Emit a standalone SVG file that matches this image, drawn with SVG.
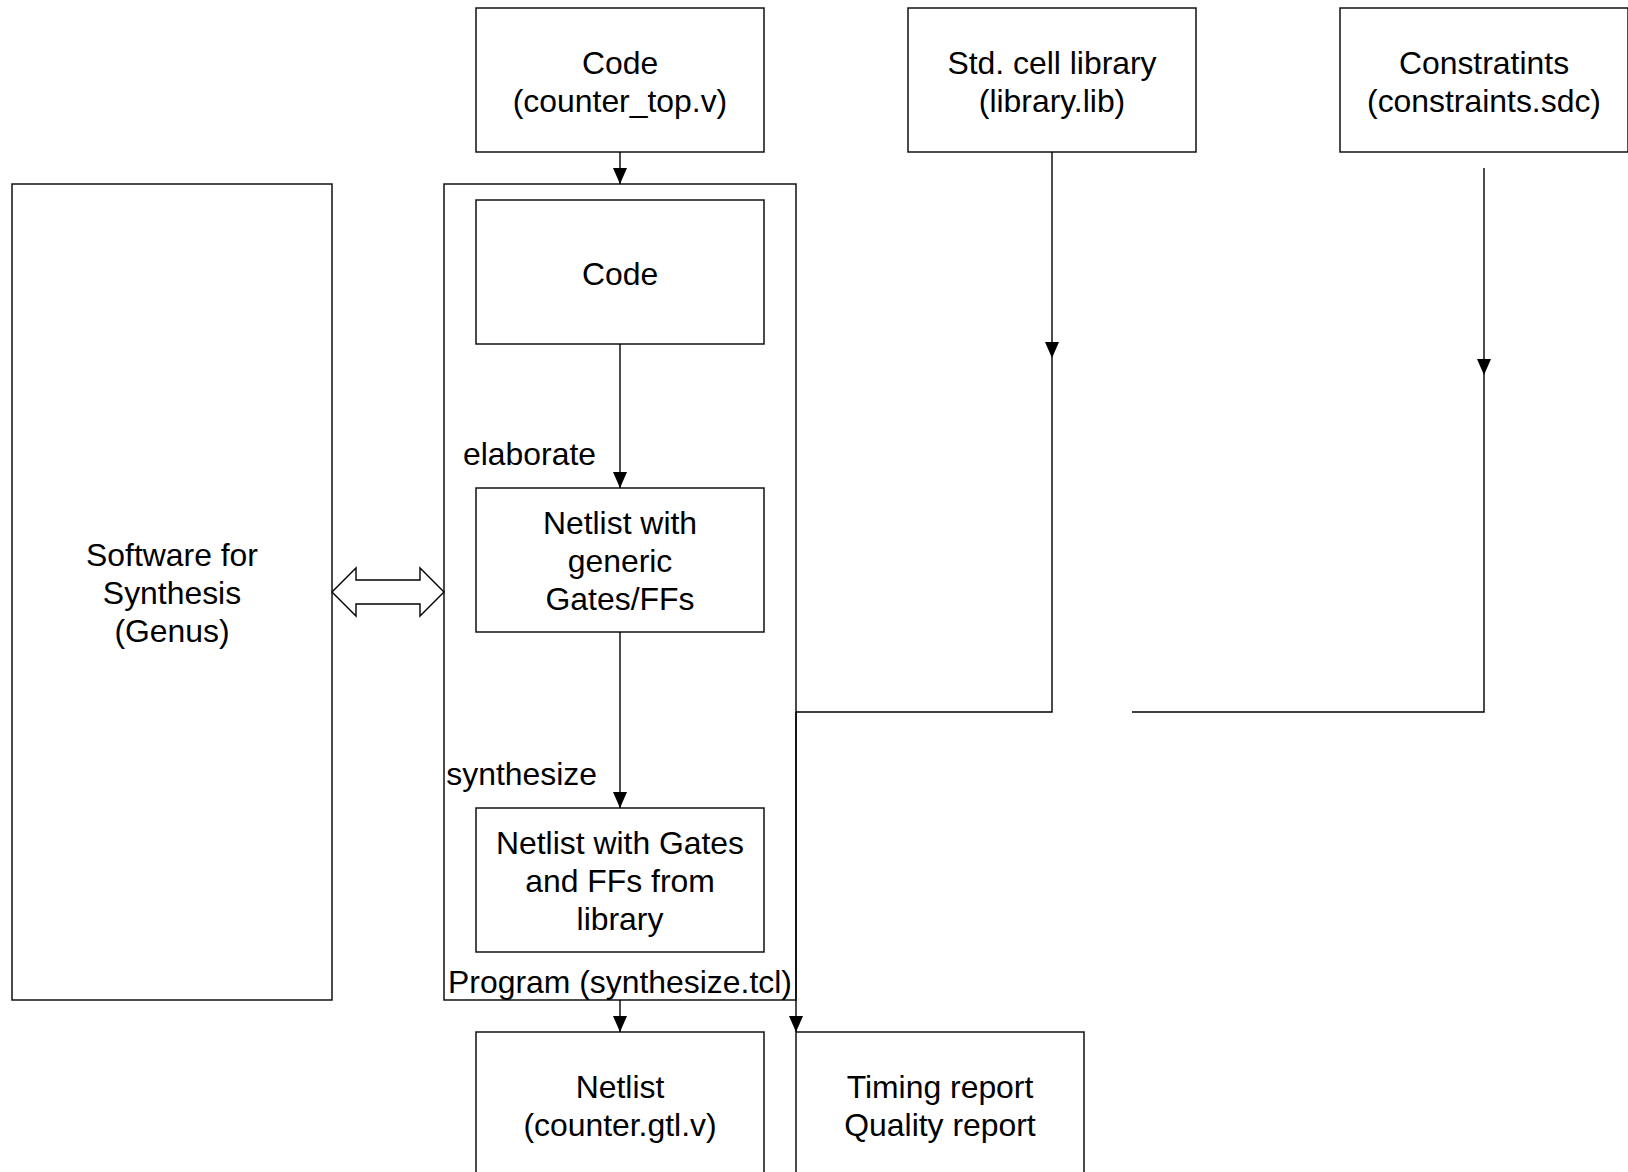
<svg xmlns="http://www.w3.org/2000/svg" width="1628" height="1172" viewBox="0 0 1628 1172">
<style>
.box{fill:#fff;stroke:#000;stroke-width:1.4}
.ln{fill:none;stroke:#000;stroke-width:1.4}
text{font-family:"Liberation Sans",Arial,sans-serif;font-size:31.9px;fill:#000}
.c{text-anchor:middle}
.e{text-anchor:end}
</style>
<defs>
<marker id="arr" viewBox="0 0 16 14" refX="16" refY="7" markerWidth="16" markerHeight="14" markerUnits="userSpaceOnUse" orient="auto">
<path d="M0,0 L16,7 L0,14 z" fill="#000"/>
</marker>
</defs>
<rect width="1628" height="1172" fill="#fff"/>
<g id="software">
<rect class="box" x="12" y="184" width="320" height="816"/>
<text class="c" x="172" y="566">Software for</text>
<text class="c" x="172" y="604">Synthesis</text>
<text class="c" x="172" y="642">(Genus)</text>
</g>
<g id="program">
<rect class="box" x="444" y="184" width="352" height="816"/>
<text class="c" x="620" y="993">Program (synthesize.tcl)</text>
</g>
<g id="code-top">
<rect class="box" x="476" y="8" width="288" height="144"/>
<text class="c" x="620" y="74">Code</text>
<text class="c" x="620" y="112">(counter_top.v)</text>
</g>
<g id="stdcell">
<rect class="box" x="908" y="8" width="288" height="144"/>
<text class="c" x="1052" y="74">Std. cell library</text>
<text class="c" x="1052" y="112">(library.lib)</text>
</g>
<g id="constraints">
<rect class="box" x="1340" y="8" width="288" height="144"/>
<text class="c" x="1484" y="74">Constratints</text>
<text class="c" x="1484" y="112">(constraints.sdc)</text>
</g>
<g id="code-inner">
<rect class="box" x="476" y="200" width="288" height="144"/>
<text class="c" x="620" y="285">Code</text>
</g>
<g id="netlist-generic">
<rect class="box" x="476" y="488" width="288" height="144"/>
<text class="c" x="620" y="534">Netlist with</text>
<text class="c" x="620" y="572">generic</text>
<text class="c" x="620" y="610">Gates/FFs</text>
</g>
<g id="netlist-lib">
<rect class="box" x="476" y="808" width="288" height="144"/>
<text class="c" x="620" y="854">Netlist with Gates</text>
<text class="c" x="620" y="892">and FFs from</text>
<text class="c" x="620" y="930">library</text>
</g>
<g id="netlist-out">
<rect class="box" x="476" y="1032" width="288" height="144"/>
<text class="c" x="620" y="1098">Netlist</text>
<text class="c" x="620" y="1136">(counter.gtl.v)</text>
</g>
<g id="reports">
<rect class="box" x="796" y="1032" width="288" height="144"/>
<text class="c" x="940" y="1098">Timing report</text>
<text class="c" x="940" y="1136">Quality report</text>
</g>
<g id="connectors">
<line class="ln" x1="620" y1="152" x2="620" y2="184" marker-end="url(#arr)"/>
<line class="ln" x1="620" y1="344" x2="620" y2="488" marker-end="url(#arr)"/>
<line class="ln" x1="620" y1="632" x2="620" y2="808" marker-end="url(#arr)"/>
<line class="ln" x1="620" y1="1000" x2="620" y2="1032" marker-end="url(#arr)"/>
<line class="ln" x1="1052" y1="152" x2="1052" y2="358" marker-end="url(#arr)"/>
<polyline class="ln" points="1052,358 1052,712 796,712"/>
<line class="ln" x1="1484" y1="168" x2="1484" y2="375" marker-end="url(#arr)"/>
<polyline class="ln" points="1484,375 1484,712 1132,712"/>
<line class="ln" x1="796" y1="712" x2="796" y2="1032" marker-end="url(#arr)"/>
<polygon class="box" points="332,592 356,568 356,580 420,580 420,568 444,592 420,616 420,604 356,604 356,616"/>
<text class="e" x="596" y="465">elaborate</text>
<text class="e" x="597" y="785">synthesize</text>
</g>
</svg>
